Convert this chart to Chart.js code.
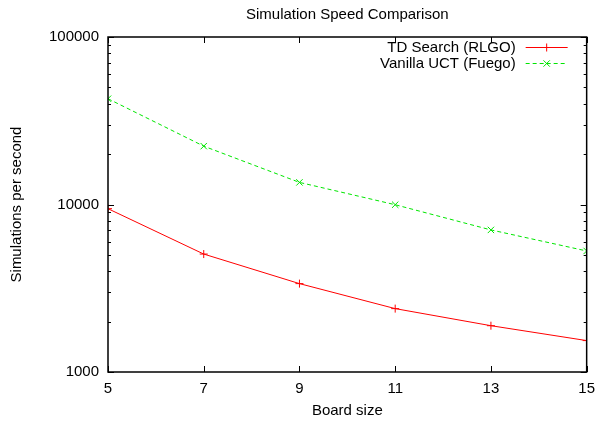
<!DOCTYPE html>
<html><head><meta charset="utf-8">
<script src="https://cdn.jsdelivr.net/npm/chart.js@4"></script>
<style>html,body{margin:0;padding:0;background:#fff}</style>
</head><body>
<canvas id="c" width="603" height="421" style="width:603px;height:421px;display:block"></canvas>
<script>
const boardSizes = [5, 7, 9, 11, 13, 15];
const tdSearch = [9440, 5060, 3370, 2390, 1890, 1540];
const vanillaUCT = [42800, 22300, 13550, 9970, 7050, 5280];
const seriesNames = ['TD Search (RLGO)', 'Vanilla UCT (Fuego)'];
const chartTitle = 'Simulation Speed Comparison';
const yTickValues = [1000, 2000, 3000, 4000, 5000, 6000, 7000, 8000, 9000,
  10000, 20000, 30000, 40000, 50000, 60000, 70000, 80000, 90000, 100000];
const yMajorTicks = [1000, 10000, 100000];
const xTickValues = [5, 7, 9, 11, 13, 15];

const FONT = '"Liberation Sans", Arial, Helvetica, sans-serif';
const RED = '#ff0000', GREEN = '#00e600';

const frame = {
  id: 'frame',
  afterDraw(chart) {
    const {ctx, chartArea: a, scales: {x, y}} = chart;
    ctx.save();
    // title centred over the plot area (gnuplot style)
    ctx.font = '15px ' + FONT;
    ctx.fillStyle = '#000';
    ctx.textAlign = 'center';
    ctx.textBaseline = 'middle';
    ctx.fillText(chartTitle, (a.left + a.right) / 2, 15);

    ctx.strokeStyle = '#000';
    ctx.lineWidth = 1;
    ctx.beginPath();
    x.ticks.forEach(t => {
      const px = Math.round(x.getPixelForValue(t.value)) + 0.5;
      ctx.moveTo(px, a.bottom); ctx.lineTo(px, a.bottom - 6);
      ctx.moveTo(px, a.top); ctx.lineTo(px, a.top + 6);
    });
    y.ticks.forEach(t => {
      const py = Math.round(y.getPixelForValue(t.value)) + 0.5;
      const len = yMajorTicks.includes(t.value) ? 6 : 3;
      ctx.moveTo(a.left, py); ctx.lineTo(a.left + len, py);
      ctx.moveTo(a.right, py); ctx.lineTo(a.right - len, py);
    });
    ctx.stroke();
    ctx.lineWidth = 1.5;
    ctx.strokeRect(a.left, a.top, a.right - a.left, a.bottom - a.top);

    // legend (gnuplot style: text right aligned, sample on the right)
    ctx.font = '15px ' + FONT;
    ctx.textAlign = 'right';
    ctx.textBaseline = 'middle';
    ctx.fillStyle = '#000';
    chart.data.datasets.forEach((ds, i) => {
      const ly = a.top + 10 + i * 16;
      ctx.fillText(ds.label, a.right - 71, ly + 1);
      ctx.strokeStyle = ds.borderColor;
      ctx.lineWidth = 1;
      ctx.setLineDash(ds.borderDash || []);
      ctx.beginPath();
      ctx.moveTo(a.right - 61, ly + 0.5); ctx.lineTo(a.right - 19, ly + 0.5);
      ctx.stroke();
      ctx.setLineDash([]);
      Chart.helpers.drawPoint(ctx, {pointStyle: ds.pointStyle, radius: ds.pointRadius, borderWidth: 1}, a.right - 40, ly + 0.5);
    });
    ctx.restore();
  }
};

new Chart(document.getElementById('c'), {
  type: 'line',
  data: {
    datasets: [
      {
        label: seriesNames[0],
        data: boardSizes.map((b, i) => ({x: b, y: tdSearch[i]})),
        borderColor: RED, backgroundColor: RED, borderWidth: 1,
        pointStyle: 'cross', pointRadius: 4, pointBorderWidth: 1,
        pointBorderColor: RED, tension: 0, fill: false
      },
      {
        label: seriesNames[1],
        data: boardSizes.map((b, i) => ({x: b, y: vanillaUCT[i]})),
        borderColor: GREEN, backgroundColor: GREEN, borderWidth: 1,
        borderDash: [4, 3],
        pointStyle: 'crossRot', pointRadius: 4.5, pointBorderWidth: 1,
        pointBorderColor: GREEN, tension: 0, fill: false
      }
    ]
  },
  options: {
    responsive: false,
    animation: false,
    layout: {padding: {left: 0, right: 15, top: 37, bottom: 0}},
    plugins: {
      legend: {display: false},
      tooltip: {enabled: false},
      title: {display: false}
    },
    scales: {
      x: {
        type: 'linear', min: 5, max: 15,
        afterBuildTicks: s => { s.ticks = xTickValues.map(v => ({value: v})); },
        afterFit: s => { s.height = 49; },
        grid: {display: false, drawTicks: false},
        border: {display: false},
        ticks: {color: '#000', font: {family: FONT, size: 15}, padding: 8, maxRotation: 0},
        title: {display: true, text: 'Board size', color: '#000',
          font: {family: FONT, size: 15}, padding: {top: 1, bottom: 1}}
      },
      y: {
        type: 'logarithmic', min: 1000, max: 100000,
        afterBuildTicks: s => { s.ticks = yTickValues.map(v => ({value: v})); },
        afterFit: s => { s.width = 108; },
        grid: {display: false, drawTicks: false},
        border: {display: false},
        ticks: {color: '#000', font: {family: FONT, size: 15}, padding: 9, autoSkip: false,
          callback: v => yMajorTicks.includes(v) ? String(v) : ''},
        title: {display: true, text: 'Simulations per second', color: '#000',
          font: {family: FONT, size: 15}, padding: {top: 8, bottom: 0}}
      }
    }
  },
  plugins: [frame]
});
</script>
</body></html>
